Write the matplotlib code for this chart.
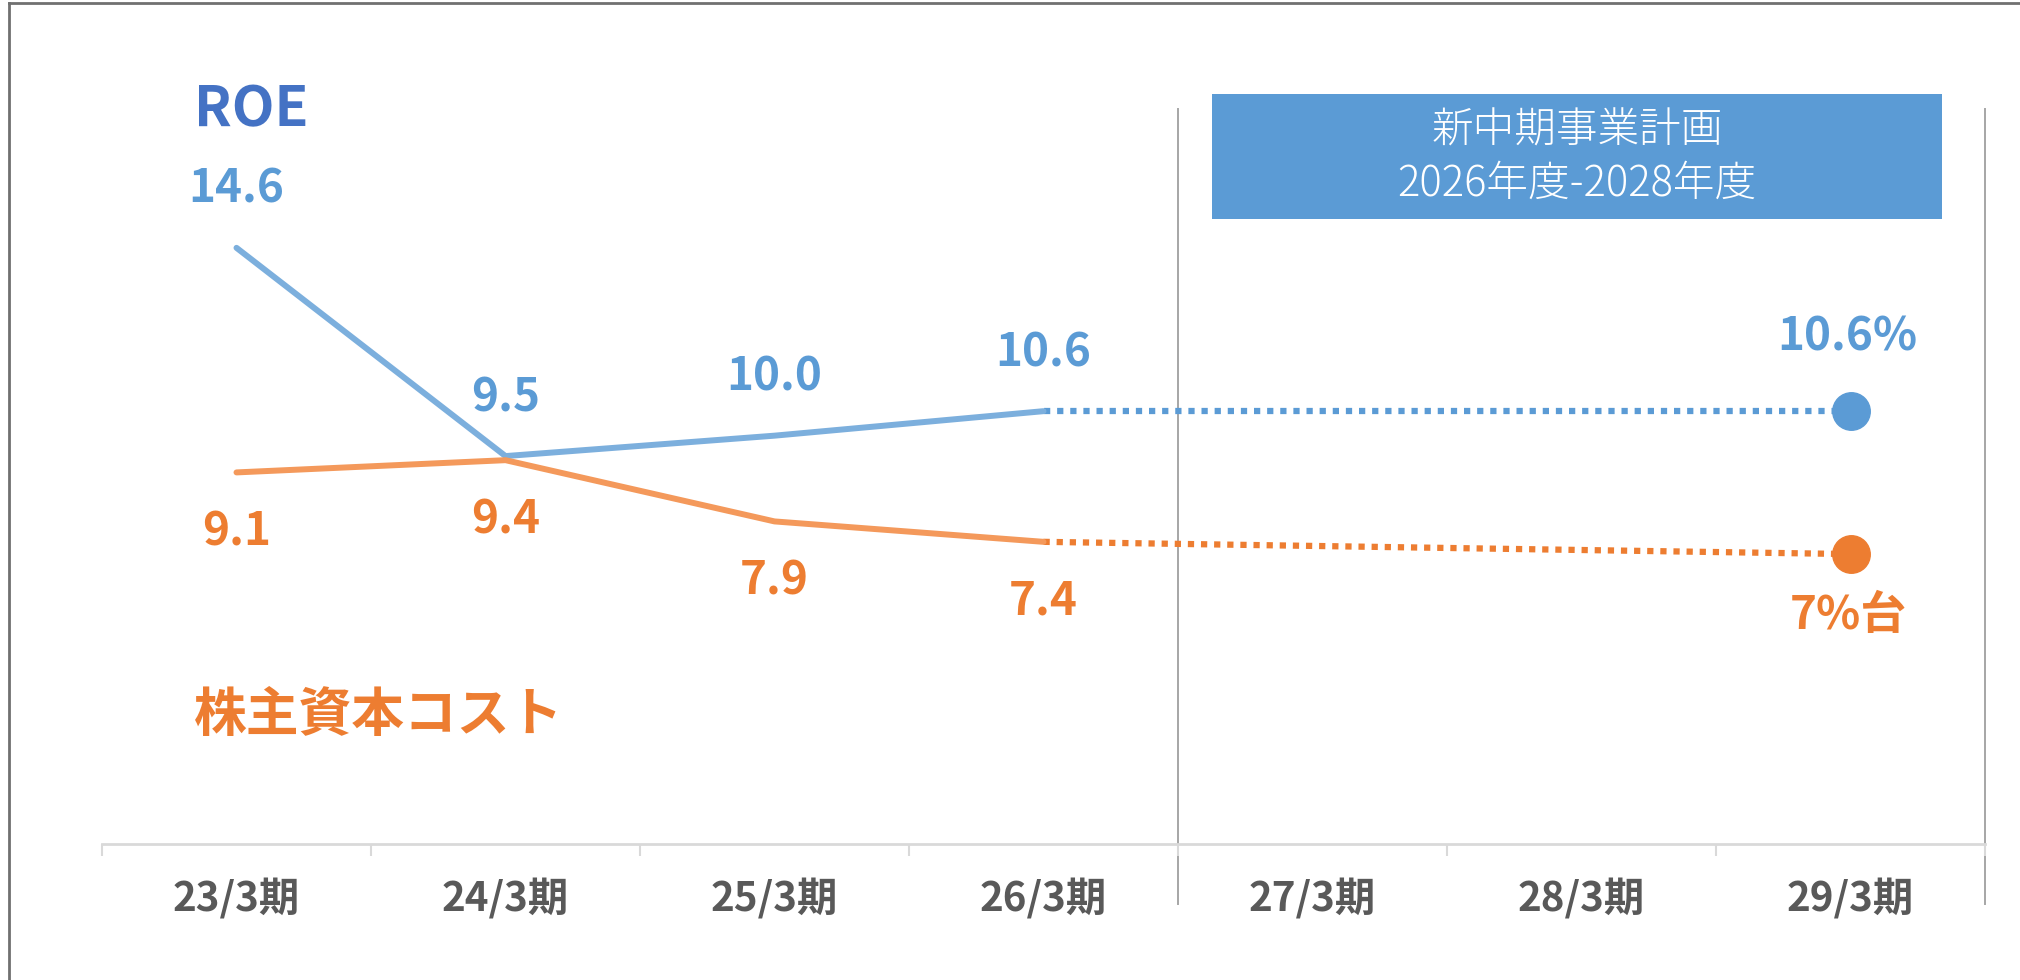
import numpy as np
import matplotlib.pyplot as plt
from matplotlib.patches import Rectangle
from matplotlib.lines import Line2D

plt.rcParams['font.family'] = ['Noto Sans CJK JP', 'DejaVu Sans']

# データ
periods = ['23/3期', '24/3期', '25/3期', '26/3期', '27/3期', '28/3期', '29/3期']
roe = [14.6, 9.5, 10.0, 10.6]
cost = [9.1, 9.4, 7.9, 7.4]
roe_target = 10.6
cost_target = 7.1
roe_target_label = '10.6%'
cost_target_label = '7%台'

blue_line = '#7cafdd'
blue = '#5b9bd5'
blue_dark = '#4472c4'
orange_line = '#f4995b'
orange = '#ed7d31'
gray = '#595959'

W, H = 2020, 980
fig = plt.figure(figsize=(W / 100, H / 100), dpi=100)
ax = fig.add_axes([102 / W, 136 / H, (1985 - 102) / W, (844 - 109) / H])

x_act = np.arange(len(roe))
x_last = len(periods) - 1

# 実績（実線）
ax.plot(x_act, roe, color=blue_line, lw=4.3, solid_capstyle='round', zorder=3)
ax.plot(x_act, cost, color=orange_line, lw=4.3, solid_capstyle='round', zorder=3)

# 計画（点線）
ax.plot([x_act[-1], x_last], [roe[-1], roe_target], color=blue, lw=4.5,
        ls=(0, (1, 1.1)), dash_capstyle='butt', zorder=2)
ax.plot([x_act[-1], x_last], [cost[-1], cost_target], color=orange, lw=4.5,
        ls=(0, (1, 1.1)), dash_capstyle='butt', zorder=2)
ax.plot([x_last], [roe_target], 'o', color=blue, ms=27, zorder=4)
ax.plot([x_last], [cost_target], 'o', color=orange, ms=27, zorder=4)

# データラベル
vs = 33
for i, v in enumerate(roe):
    ax.annotate(f'{v:.1f}', (i, v), xytext=(0, 58), textcoords='offset pixels',
                ha='center', va='center', fontsize=vs, fontweight='bold', color=blue)
for i, v in enumerate(cost):
    ax.annotate(f'{v:.1f}', (i, v), xytext=(0, -60), textcoords='offset pixels',
                ha='center', va='center', fontsize=vs, fontweight='bold', color=orange)
ax.annotate(roe_target_label, (x_last, roe_target), xytext=(-3, 74), textcoords='offset pixels',
            ha='center', va='center', fontsize=vs, fontweight='bold', color=blue)
ax.annotate(cost_target_label, (x_last, cost_target), xytext=(-2, -62), textcoords='offset pixels',
            ha='center', va='center', fontsize=vs, fontweight='bold', color=orange)

# 系列名
fig.text(194 / W, 1 - 110 / H, 'ROE', ha='left', va='center',
         fontsize=40, fontweight='bold', color=blue_dark)
fig.text(194 / W, 1 - 716 / H, '株主資本コスト', ha='left', va='center',
         fontsize=38, fontweight='bold', color=orange)

# 軸
ax.set_xlim(-0.5, len(periods) - 0.5)
ax.set_ylim(0, 18)
for s in ['top', 'right', 'left']:
    ax.spines[s].set_visible(False)
ax.spines['bottom'].set_color('#d9d9d9')
ax.spines['bottom'].set_linewidth(2)
ax.set_yticks([])
ax.set_xticks(np.arange(-0.5, len(periods)), minor=True)
ax.set_xticks([])
ax.tick_params(which='minor', length=8.6, width=1.5, color='#d9d9d9', labelbottom=False)
for i, p in enumerate(periods):
    ax.annotate(p, (i, 0), xycoords=('data', 'axes fraction'), xytext=(0, -56),
                textcoords='offset pixels', ha='center', va='center',
                fontsize=29, fontweight='bold', color=gray, annotation_clip=False)

# 区切り線
y_bot = -60 / 40.83
for xv in [3.5, len(periods) - 0.5]:
    ax.plot([xv, xv], [y_bot, 18], color='#a6a6a6', lw=1.4, clip_on=False, zorder=1)

# 新中期事業計画ボックス
fig.patches.append(Rectangle((1212 / W, 1 - 219 / H), 730 / W, 125 / H,
                             transform=fig.transFigure, facecolor=blue, edgecolor='none'))
fig.text(1577 / W, 1 - 131 / H, '新中期事業計画', ha='center', va='center',
         fontsize=30, fontweight='light', color='white')
fig.text(1577 / W, 1 - 184 / H, '2026年度-2028年度', ha='center', va='center',
         fontsize=30, fontweight='light', color='white')

# 外枠
fig.add_artist(Line2D([9 / W, 9 / W], [0, 1 - 3 / H], color='#707070', lw=2))
fig.add_artist(Line2D([9 / W, 1], [1 - 3 / H, 1 - 3 / H], color='#707070', lw=2))

fig.savefig('out.png', dpi=100)
